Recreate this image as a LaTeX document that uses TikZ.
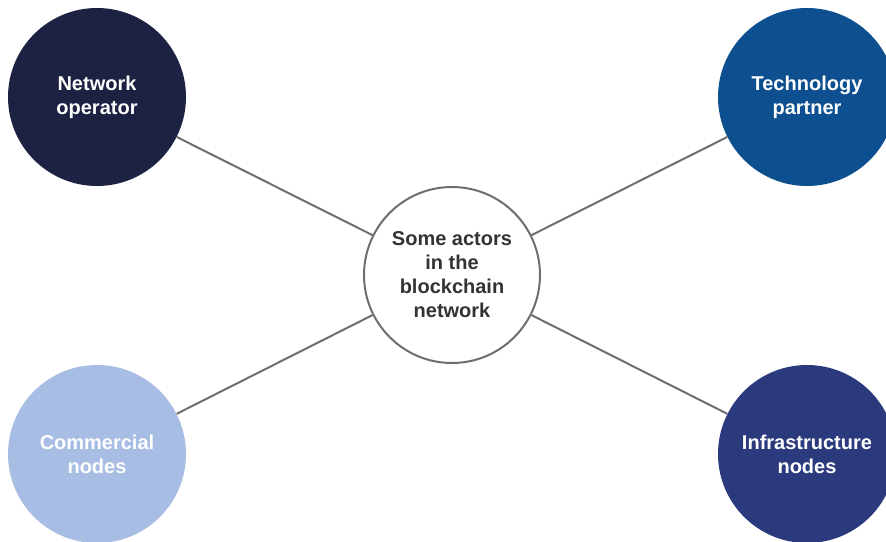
\documentclass[tikz,border=0pt]{standalone}
\usepackage{fontspec}
\setmainfont{Liberation Sans}
\definecolor{opblue}{HTML}{1E2242}
\definecolor{techblue}{HTML}{0D4F8F}
\definecolor{commblue}{HTML}{A8BDE3}
\definecolor{infrablue}{HTML}{2B3A7C}
\definecolor{linegray}{HTML}{6E6E6E}
\definecolor{textgray}{HTML}{333333}
\begin{document}
\begin{tikzpicture}[x=0.75pt,y=-0.75pt,
  actor/.style={circle,minimum size=133.5pt,inner sep=0pt,align=center,
    text=white,font=\fontsize{15}{18}\selectfont\bfseries},
  hub/.style={circle,draw=linegray,line width=1.5pt,fill=white,minimum size=132pt,
    inner sep=0pt,align=center,text=textgray,font=\fontsize{15}{18}\selectfont\bfseries},
  link/.style={draw=linegray,line width=1.5pt}]
\useasboundingbox (0,0) rectangle (886,542);
\clip (0,0) rectangle (886,542);
\node[actor,fill=opblue] (operator) at (97,97) {Network\\operator};
\node[actor,fill=techblue] (tech) at (807,97) {Technology\\partner};
\node[actor,fill=commblue] (commercial) at (97,454) {Commercial\\nodes};
\node[actor,fill=infrablue] (infra) at (807,454) {Infrastructure\\nodes};
\node[hub] (actors) at (452,275) {Some actors\\in the\\blockchain\\network};
\draw[link] (operator) -- (actors);
\draw[link] (tech) -- (actors);
\draw[link] (commercial) -- (actors);
\draw[link] (infra) -- (actors);
\end{tikzpicture}
\end{document}
